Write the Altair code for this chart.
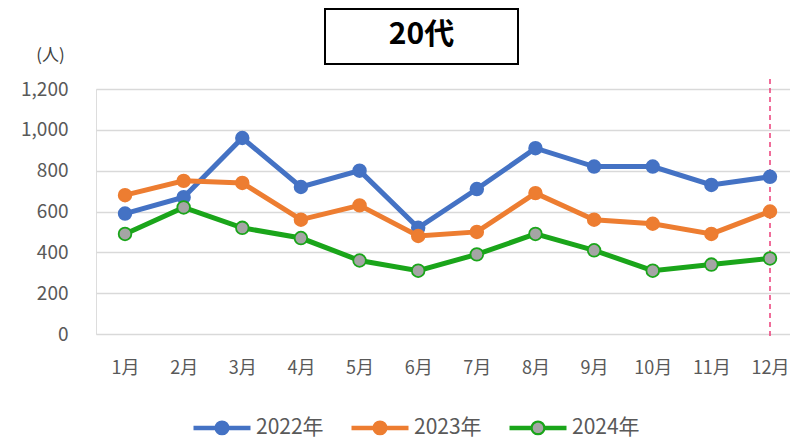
import altair as alt
import pandas as pd

# ---- data ----
months = ["1月", "2月", "3月", "4月", "5月", "6月", "7月", "8月", "9月", "10月", "11月", "12月"]
years = ["2022年", "2023年", "2024年"]
y2022 = [590, 670, 960, 720, 800, 520, 710, 910, 820, 820, 730, 770]
y2023 = [680, 750, 740, 560, 630, 480, 500, 690, 560, 540, 490, 600]
y2024 = [490, 620, 520, 470, 360, 310, 390, 490, 410, 310, 340, 370]
y_ticks = [0, 200, 400, 600, 800, 1000, 1200]
title_text = "20代"
unit_text = "(人)"
marker_month = "12月"

line_colors = ["#4472C4", "#ED7D31", "#1AA51A"]
fill_colors = ["#4472C4", "#ED7D31", "#A5A5A5"]

rows = []
for yr, vals in zip(years, [y2022, y2023, y2024]):
    for m, v in zip(months, vals):
        rows.append({"month": m, "year": yr, "value": v})
df = pd.DataFrame(rows)

FONT = "Noto Sans CJK JP"
GRAY = "#595959"

# legend symbol: a line with a circle in the middle (ring drawn by the stroke legend,
# the inner disc filled by the fill legend drawn on top with identical geometry)
ring_path = ("M-1,0 L1,0 "
             "M0.184,0 A0.184,0.184 0 1,1 -0.184,0 A0.184,0.184 0 1,1 0.184,0 Z")

common = dict(title=None, orient="none", legendX=95, legendY=307.5, direction="horizontal",
              symbolType=ring_path, symbolSize=3249, symbolStrokeWidth=4.5,
              labelFontSize=21, labelFont=FONT, labelOffset=3, padding=0, symbolOpacity=1)
stroke_legend = alt.Legend(symbolFillColor="transparent", labelColor=GRAY,
                           columnPadding=18, zindex=1, **common)
fill_legend = alt.Legend(symbolStrokeColor="transparent", labelExpr="''",
                         columnPadding=82, zindex=2, **common)

x_enc = alt.X("month:N", sort=months,
              scale=alt.Scale(domain=months, type="point", padding=0.418, align=0.592),
              axis=alt.Axis(title=None, labelAngle=0, labelAlign="center", labelBaseline="middle",
                            ticks=False, tickSize=0, domain=False,
                            labelFontSize=18, labelColor=GRAY, labelFont=FONT,
                            labelPadding=34, grid=False))
y_enc = alt.Y("value:Q", scale=alt.Scale(domain=[0, 1200], nice=False),
              axis=alt.Axis(values=y_ticks, format=",d", title=unit_text, titleAngle=0,
                            titleX=-46, titleY=-34, titleAlign="center", titleBaseline="middle",
                            titleFontSize=17, titleFontWeight="normal", titleColor="#404040",
                            titleFont=FONT, ticks=False, tickSize=0, domain=False,
                            labelFontSize=19, labelColor=GRAY, labelFont=FONT, labelPadding=28,
                            grid=True, gridColor="#D9D9D9", gridWidth=1.5))

stroke_enc = alt.Stroke("year:N", scale=alt.Scale(domain=years, range=line_colors), legend=stroke_legend)
fill_enc = alt.Fill("year:N", scale=alt.Scale(range=fill_colors), legend=fill_legend)

base = alt.Chart(df)
layers = []

# dashed marker line at the latest month
rule_df = pd.DataFrame({"month": [marker_month]})
layers.append(
    alt.Chart(rule_df).mark_rule(color="#EC3E7A", strokeWidth=1.5, strokeDash=[5, 4]).encode(
        x=alt.X("month:N", sort=months), y=alt.value(-10), y2=alt.value(247)
    )
)

for yr in years:
    sub = base.transform_filter(alt.datum.year == yr)
    layers.append(sub.mark_line(strokeWidth=5).encode(x=x_enc, y=y_enc, stroke=stroke_enc))
    layers.append(sub.mark_point(filled=True, size=160, strokeWidth=1.8, opacity=1).encode(
        x=x_enc, y=y_enc, stroke=stroke_enc, fill=fill_enc))

# title box and text
title_df = pd.DataFrame({"t": [title_text]})
box = alt.Chart(title_df).mark_rect(fill="white", stroke="black", strokeWidth=2).encode(
    x=alt.value(229), x2=alt.value(422), y=alt.value(-80), y2=alt.value(-25))
ttl = alt.Chart(title_df).mark_text(font=FONT, fontSize=30, fontWeight="bold", color="black",
                                    align="center", baseline="middle").encode(
    x=alt.value(325.5), y=alt.value(-54), text="t:N")
layers += [box, ttl]

chart = alt.layer(*layers).resolve_scale(stroke="shared", fill="shared").properties(
    width=694, height=245,
    autosize=alt.AutoSizeParams(type="none"),
    padding={"left": 88, "top": 81, "right": 0, "bottom": 104},
).configure_view(stroke=None).configure(font=FONT, background="white")

chart.save("out.html", embed_options={"renderer": "svg", "actions": False})
